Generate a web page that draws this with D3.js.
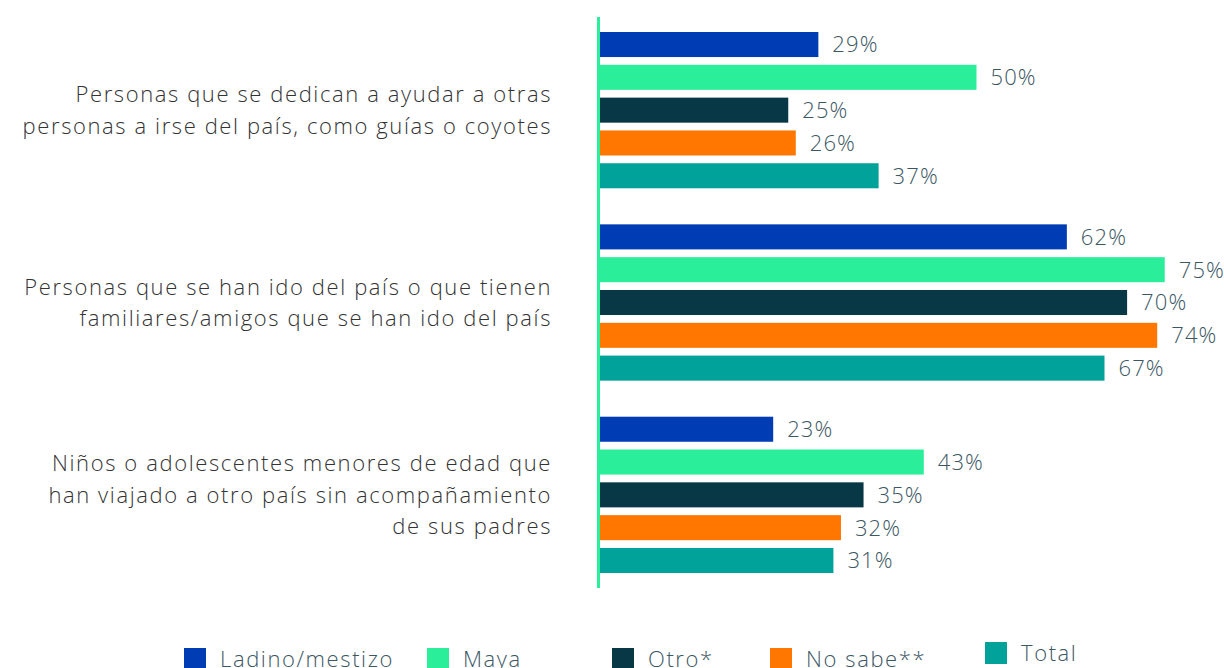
<!DOCTYPE html>
<html>
<head>
<meta charset="utf-8">
<script src="https://cdn.jsdelivr.net/npm/d3@7"></script>
<style>
  body { margin: 0; background: #fff; }
  svg { display: block; font-family: 'Open Sans', sans-serif; }
</style>
</head>
<body>
<div id="chart"></div>
<script>
// datos
const categories = [
    ['Personas que se dedican a ayudar a otras', 'personas a irse del país, como guías o coyotes'],
    ['Personas que se han ido del país o que tienen', 'familiares/amigos que se han ido del país'],
    ['Niños o adolescentes menores de edad que', 'han viajado a otro país sin acompañamiento', 'de sus padres']
];
const seriesNames = ['Ladino/mestizo', 'Maya', 'Otro*', 'No sabe**', 'Total'];
const ladino = [29, 62, 23];
const maya = [50, 75, 43];
const otro = [25, 70, 35];
const noSabe = [26, 74, 32];
const total = [37, 67, 31];
const seriesValues = [ladino, maya, otro, noSabe, total];
const colors = ['#003db5', '#2bee9b', '#083845', '#ff7700', '#00a29a'];

const width = 1224, height = 668;

const svg = d3.select('#chart')
    .append('svg')
    .attr('width', width)
    .attr('height', height);

const x = d3.scaleLinear().domain([0, 100]).range([600, 1353]);
const y0 = d3.scaleBand().domain(d3.range(categories.length)).range([32, 573]).paddingInner(0.1875);
const y1 = d3.scaleBand().domain(seriesNames).range([0, y0.bandwidth()]).paddingInner(0.237);
const color = d3.scaleOrdinal().domain(seriesNames).range(colors);

const rows = categories.map((c, i) => ({
    i,
    values: seriesNames.map((s, k) => ({ series: s, value: seriesValues[k][i] }))
}));

const groups = svg.selectAll('g.grp')
    .data(rows)
    .enter()
    .append('g')
    .attr('class', 'grp')
    .attr('transform', d => `translate(0,${y0(d.i)})`);

groups.selectAll('rect')
    .data(d => d.values)
    .enter()
    .append('rect')
    .attr('x', x(0))
    .attr('y', d => y1(d.series))
    .attr('width', d => x(d.value) - x(0))
    .attr('height', y1.bandwidth())
    .style('fill', d => color(d.series));

groups.selectAll('text.val')
    .data(d => d.values)
    .enter()
    .append('text')
    .attr('class', 'val')
    .attr('x', d => x(d.value) + 14)
    .attr('y', d => y1(d.series) + y1.bandwidth() / 2)
    .attr('dy', '0.36em')
    .style('font-size', '22px')
    .style('font-weight', 300)
    .style('letter-spacing', '1.1px')
    .style('fill', '#3b5763')
    .text(d => d.value + '%');

// eje vertical
svg.append('line')
    .attr('x1', 598.5).attr('x2', 598.5)
    .attr('y1', 17).attr('y2', 588)
    .style('stroke', '#2bee9b')
    .style('stroke-width', 3);

// etiquetas de categoría
const lineH = 31.5;
svg.selectAll('text.cat')
    .data(rows)
    .enter()
    .append('text')
    .attr('class', 'cat')
    .attr('text-anchor', 'end')
    .style('font-size', '22px')
    .style('font-weight', 300)
    .style('letter-spacing', '1.6px')
    .style('fill', '#333')
    .each(function (d) {
        const lines = categories[d.i];
        const cy = y0(d.i) + y0.bandwidth() / 2;
        const start = cy - (lines.length - 1) * lineH / 2;
        d3.select(this).selectAll('tspan')
            .data(lines)
            .enter()
            .append('tspan')
            .attr('x', 552)
            .attr('y', (t, j) => start + j * lineH)
            .attr('dy', '0.36em')
            .text(t => t);
    });

// leyenda
const legendX = [184, 427, 612, 770, 985];
const legendY = [648, 648, 648, 648, 642];
const legend = svg.selectAll('g.leg')
    .data(seriesNames)
    .enter()
    .append('g')
    .attr('class', 'leg')
    .attr('transform', (d, i) => `translate(${legendX[i]},${legendY[i]})`);

legend.append('rect')
    .attr('width', 22)
    .attr('height', 22)
    .style('fill', d => color(d));

legend.append('text')
    .attr('x', 36)
    .attr('y', 11)
    .attr('dy', '0.36em')
    .style('font-size', '22px')
    .style('font-weight', 300)
    .style('letter-spacing', '1.6px')
    .style('fill', '#3b5763')
    .text(d => d);
</script>
</body>
</html>
